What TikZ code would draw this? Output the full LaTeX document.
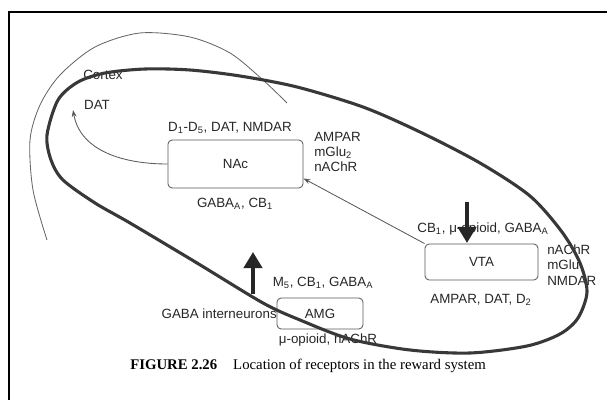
\documentclass[tikz,border=0pt]{standalone}
\usepackage{fontspec}
\setmainfont{Liberation Serif}
\setsansfont{Liberation Sans}
\usetikzlibrary{arrows.meta}

\tikzset{
	lbl/.style={font=\sffamily\fontsize{9.5}{11}\selectfont, text=black!85, inner sep=0pt},
	region/.style={lbl, draw=black!65, rounded corners=3pt, line width=0.6pt},
	link/.style={draw=black!65, line width=0.6pt, -{Stealth[length=5pt,width=3.5pt]}},
	bigarrow/.style={draw=black!85, line width=3.5pt, -{Triangle[length=0.4cm,width=0.45cm]}},
}

\begin{document}
\begin{tikzpicture}[x=0.025cm, y=-0.025cm]
				\useasboundingbox (0,0) rectangle (607,400);
				% Frame:
				\draw[line width=1.5pt] (9,400) -- (9,12) -- (607,12);
				% Cortex arc:
				\draw[black!60, line width=0.6pt] plot[smooth] coordinates {(47,240) (33,190) (30,140) (40,105) (60,75) (95,47) (140,33) (190,37) (230,53) (263,80) (287,103)};
				% Regions and receptors:
				\node[region, minimum width=3.375cm, minimum height=1.2cm] (nac) at (235.5,164) {NAc};
				\node[region, minimum width=2.825cm, minimum height=0.9cm] (vta) at (481.5,262) {VTA};
				\node[region, minimum width=2.15cm, minimum height=0.775cm] (amg) at (320,313.5) {AMG};
				\node[lbl] (nactop) at (230,128) {D\textsubscript{1}-D\textsubscript{5}, DAT, NMDAR};
				\node[lbl] (nacbot) at (235,204) {GABA\textsubscript{A}, CB\textsubscript{1}};
				\node[lbl, anchor=west, align=left] (nacside) at (314,152) {AMPAR\\mGlu\textsubscript{2}\\nAChR};
				\node[lbl] (vtatop) at (483,229) {CB\textsubscript{1}, μ-opioid, GABA\textsubscript{A}};
				\node[lbl] (vtabot) at (481,300) {AMPAR, DAT, D\textsubscript{2}};
				\node[lbl, anchor=west, align=left] (vtaside) at (547,265) {nAChR\\mGlu\\NMDAR};
				\node[lbl] (amgtop) at (323,283) {M\textsubscript{5}, CB\textsubscript{1}, GABA\textsubscript{A}};
				\node[lbl] (amgbot) at (328,340) {μ-opioid, nAChR};
				\node[lbl, anchor=east] (inter) at (277,314) {GABA interneurons};
				\node[lbl] (cortex) at (103,75) {Cortex};
				\node[lbl] (dat) at (97,105) {DAT};
				% Connectors:
				\coordinate (datend) at (73,110);
				\draw[link] (nac.west) to[out=180, in=-80] (datend);
				\draw[link] (vta.north west) -- (nac.-12);
				\coordinate (dntop) at (467,202);
				\coordinate (dntip) at (467,243);
				\coordinate (uptop) at (253,252);
				\coordinate (upbot) at (253,294);
				\draw[bigarrow] (dntop) -- (dntip);
				\draw[bigarrow] (upbot) -- (uptop);
				% Reward loop:
				\draw[black!78, line width=2.2pt] plot[smooth cycle] coordinates {(47,135) (58,100) (78,82) (105,73) (145,69) (190,70) (240,76) (297,87) (363,107) (420,132) (480,163) (530,196) (562,232) (580,263) (587,292) (578,318) (560,334) (527,346) (470,353) (410,350) (350,339) (300,320) (263,303) (197,263) (130,223) (95,203) (63,180) (51,160)};
				% Caption:
				\node[anchor=west, font=\fontsize{10.5}{12}\selectfont, inner sep=0pt] (caption) at (130,366) {\textbf{FIGURE 2.26}\hspace{0.4cm}Location of receptors in the reward system};
			\end{tikzpicture}
\end{document}
